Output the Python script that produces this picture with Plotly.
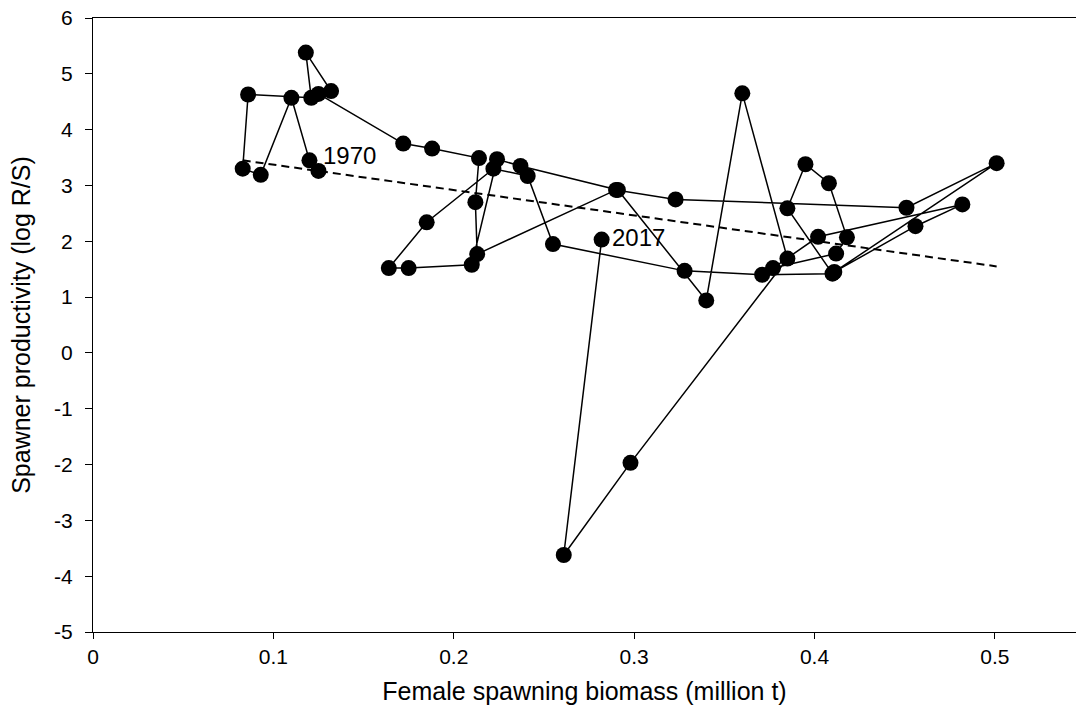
import plotly.graph_objects as go

# Years 1970-2017 (connected in time order)
years = list(range(1970, 2018))

# Female spawning biomass (million t), in year order
biomass = [
    0.125, 0.120, 0.110, 0.093, 0.083, 0.086, 0.121, 0.118, 0.132, 0.125,  # 1970-1979
    0.172, 0.188, 0.214, 0.212, 0.213, 0.290, 0.323, 0.451, 0.501, 0.411,  # 1980-1989
    0.456, 0.482, 0.402, 0.377, 0.412, 0.418, 0.408, 0.395, 0.385, 0.410,  # 1990-1999
    0.371, 0.328, 0.255, 0.241, 0.222, 0.185, 0.164, 0.175, 0.210, 0.224,  # 2000-2009
    0.237, 0.291, 0.340, 0.360, 0.385, 0.298, 0.261, 0.282,                # 2010-2017
]

# Spawner productivity (log R/S), in year order
productivity = [
    3.26, 3.45, 4.57, 3.19, 3.30, 4.63, 4.57, 5.38, 4.69, 4.64,
    3.75, 3.66, 3.49, 2.70, 1.77, 2.92, 2.75, 2.60, 3.40, 1.45,
    2.27, 2.66, 2.08, 1.52, 1.78, 2.07, 3.04, 3.38, 2.59, 1.42,
    1.40, 1.47, 1.95, 3.17, 3.30, 2.34, 1.52, 1.52, 1.58, 3.47,
    3.35, 2.92, 0.94, 4.65, 1.69, -1.97, -3.62, 2.03,
]

# Linear trend line (dashed)
trend_x = [0.083, 0.501]
trend_y = [3.45, 1.55]

x_ticks = [0, 0.1, 0.2, 0.3, 0.4, 0.5]
x_ticktext = ["0", "0.1", "0.2", "0.3", "0.4", "0.5"]
y_ticks = [-5, -4, -3, -2, -1, 0, 1, 2, 3, 4, 5, 6]
y_ticktext = [str(v) for v in y_ticks]

FONT = "Liberation Sans, Arial, sans-serif"

fig = go.Figure()
fig.add_trace(go.Scatter(
    x=trend_x, y=trend_y, mode="lines",
    line=dict(color="black", width=2, dash="8px,5px"),
    hoverinfo="skip",
))
fig.add_trace(go.Scatter(
    x=biomass, y=productivity, mode="lines+markers",
    text=[str(y) for y in years],
    line=dict(color="black", width=1.5),
    marker=dict(size=16, color="black"),
))

fig.add_annotation(x=biomass[0], y=productivity[0], text=str(years[0]),
                   showarrow=False, xanchor="left", yanchor="middle",
                   xshift=3, yshift=15, font=dict(size=24, color="black", family=FONT))
fig.add_annotation(x=biomass[-1], y=productivity[-1], text=str(years[-1]),
                   showarrow=False, xanchor="left", yanchor="middle",
                   xshift=8, yshift=2, font=dict(size=24, color="black", family=FONT))

fig.update_layout(
    width=1076, height=711,
    margin=dict(l=93, r=0, t=18, b=79),
    plot_bgcolor="white", paper_bgcolor="white",
    showlegend=False,
    font=dict(family=FONT, size=21, color="black"),
    xaxis=dict(
        range=[0, 0.545], tickvals=x_ticks, ticktext=x_ticktext,
        ticks="outside", ticklen=6, tickcolor="black", tickwidth=1,
        showline=True, linecolor="black", linewidth=1, mirror=True,
        showgrid=False, zeroline=False,
        title=dict(text="Female spawning biomass (million t)", standoff=15),
    ),
    yaxis=dict(
        range=[-5, 6], tickvals=y_ticks, ticktext=y_ticktext,
        ticks="outside", ticklen=7, tickcolor="black", tickwidth=1,
        showline=True, linecolor="black", linewidth=1,
        showgrid=False, zeroline=False,
        ticklabelstandoff=8,
        title=dict(text="Spawner productivity (log R/S)", standoff=16),
    ),
)

fig.write_html("out.html", config={"displayModeBar": False},
               post_script="document.body.style.margin='0px';")
